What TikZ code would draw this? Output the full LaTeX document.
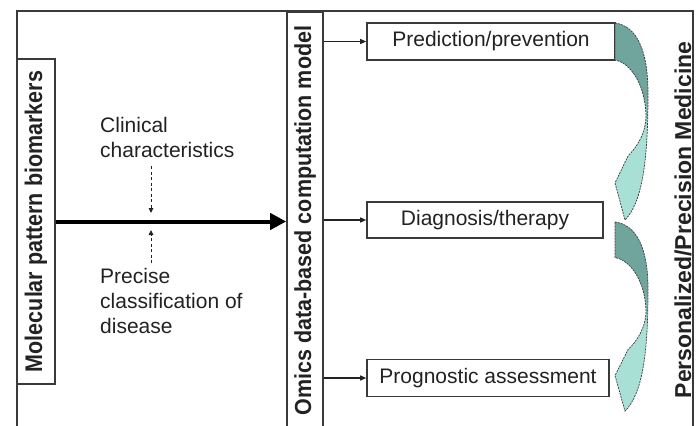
\documentclass[tikz,border=0pt]{standalone}
\usepackage{fontspec}
\setmainfont{Liberation Sans}
\usetikzlibrary{arrows.meta}
\definecolor{ink}{HTML}{222222}
\definecolor{edge}{HTML}{3A3A3A}
\definecolor{dkteal}{HTML}{6FA59D}
\definecolor{ltteal}{HTML}{A8E0D6}
\pgfdeclareverticalshading{tealshade}{100bp}{color(0bp)=(ltteal); color(47bp)=(ltteal); color(57bp)=(dkteal); color(100bp)=(dkteal)}
\begin{document}
\begin{tikzpicture}[x=1pt,y=-1pt,
  box/.style={draw=edge, line width=1.6pt, fill=white, text=ink, font=\fontsize{21}{25}\selectfont, inner sep=0pt},
  vbox/.style={draw=edge, line width=1.6pt, fill=white, text=ink, font=\bfseries\fontsize{21.5}{25}\selectfont, inner sep=0pt},
  note/.style={text=ink, font=\fontsize{21}{25}\selectfont, align=left, inner sep=0pt, anchor=north west},
  feed/.style={draw=ink, line width=1.1pt, -{Triangle[length=6pt,width=5pt]}},
  hint/.style={draw=ink, line width=0.9pt, dash pattern=on 3pt off 2.5pt, -{Triangle[length=5pt,width=4.5pt]}},
  main/.style={draw=black, line width=4pt, -{Triangle[length=16pt,width=16pt]}},
  curvebody/.style={shade, shading=tealshade, draw=edge, line width=0.7pt, dash pattern=on 2pt off 1pt}
]
\useasboundingbox (0,0) rectangle (700,425);
\fill[white] (0,0) rectangle (700,425);
% outer frame
\draw[edge, line width=1.4pt] (17,430) -- (17,11) -- (693,11) -- (693,430);

\node[vbox, minimum width=38pt, minimum height=325pt] (mol) at (36,221.5) {\rotatebox{90}{\scalebox{1}[1.12]{Molecular pattern biomarkers}}};
\node[vbox, minimum width=36pt, minimum height=417pt] (om) at (305,220.5) {\rotatebox{90}{\scalebox{1}[1.08]{Omics data-based computation model}}};

\node[box, minimum width=248pt, minimum height=37pt] (pred) at (491,41.5) {Prediction/prevention};
\node[box, minimum width=236pt, minimum height=36pt] (diag) at (485,220) {Diagnosis/therapy};
\node[box, minimum width=242pt, minimum height=37pt] (prog) at (488,378) {Prognostic assessment};

\node[note] (clin) at (100,117) {Clinical\\characteristics};
\node[note] (prec) at (100,268) {Precise\\classification of\\disease};

\node[text=ink, font=\bfseries\fontsize{23}{27}\selectfont, inner sep=0pt] (pm) at (683,220) {\rotatebox{90}{Personalized/Precision Medicine}};

% connectors
\draw[main] (mol.east) -- (om.west |- mol.east);
\draw[feed] (om.east |- pred.west) -- (pred.west);
\draw[feed] (om.east |- diag.west) -- (diag.west);
\draw[feed] (om.east |- prog.west) -- (prog.west);

\coordinate (c1) at (151,166);
\coordinate (c2) at (151,213);
\coordinate (c3) at (151,263);
\coordinate (c4) at (151,230);
\draw[hint] (c1) -- (c2);
\draw[hint] (c3) -- (c4);

% curved arrows
\begin{scope}[shift={(615,23)}]
\path[curvebody] (0,0) .. controls (22,3) and (33,28) .. (33,70) .. controls (33,135) and (28,178) .. (10,197) -- (0,160) -- (13,133) .. controls (22,124) and (31,110) .. (31,92) .. controls (30,62) and (16,40) .. (0,37) -- cycle;
\end{scope}
\begin{scope}[shift={(615,222)}, yscale=0.96]
\path[curvebody] (0,0) .. controls (22,3) and (33,28) .. (33,70) .. controls (33,135) and (28,178) .. (10,197) -- (0,160) -- (13,133) .. controls (22,124) and (31,110) .. (31,92) .. controls (30,62) and (16,40) .. (0,37) -- cycle;
\end{scope}
\end{tikzpicture}
\end{document}
